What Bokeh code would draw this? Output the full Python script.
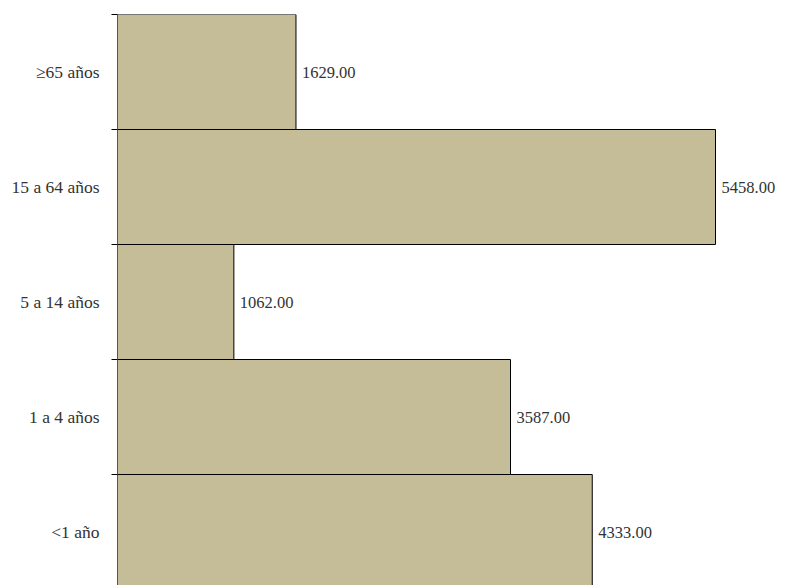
from bokeh.plotting import figure
from bokeh.models import Range1d, FixedTicker, ColumnDataSource
from bokeh.core.properties import value
from bokeh.embed import file_html
from bokeh.resources import INLINE

categories = ["<1 año", "1 a 4 años", "5 a 14 años", "15 a 64 años", "\u226565 años"]
values = [4333, 3587, 1062, 5458, 1629]
value_labels = ["4333.00", "3587.00", "1062.00", "5458.00", "1629.00"]

FONT = "'Liberation Serif', 'DejaVu Serif', serif"
pos = [i + 0.5 for i in range(len(categories))]
src = ColumnDataSource(dict(y=pos, v=values, lab=value_labels))

p = figure(width=779, height=585, output_backend="svg", toolbar_location=None,
           x_range=Range1d(0, 6042), y_range=Range1d(5 - 571 / 115, 5),
           min_border_left=117, min_border_right=0, min_border_top=14, min_border_bottom=0)
p.outline_line_color = None
p.xgrid.visible = False
p.ygrid.visible = False
p.xaxis.visible = False

p.hbar(y="y", right="v", left=0, height=1.0, source=src,
       fill_color="#C4BD97", line_color="#000000", line_width=1)
p.text(x="v", y="y", text="lab", source=src, x_offset=6,
       text_font=value(FONT), text_font_size="16.5px", text_color="#333333",
       text_baseline="middle", text_align="left")

ax = p.yaxis[0]
ax.ticker = FixedTicker(ticks=pos, minor_ticks=[1, 2, 3, 4, 5])
ax.major_label_overrides = {p_: c for p_, c in zip(pos, categories)}
ax.major_tick_line_color = None
ax.major_tick_out = 0
ax.major_tick_in = 0
ax.minor_tick_out = 6
ax.minor_tick_in = 0
ax.minor_tick_line_color = "#000000"
ax.axis_line_color = "#555555"
ax.major_label_standoff = 12
ax.major_label_text_font = FONT
ax.major_label_text_font_size = "17.5px"
ax.major_label_text_color = "#333333"

open("out.html", "w").write(file_html(p, INLINE))
